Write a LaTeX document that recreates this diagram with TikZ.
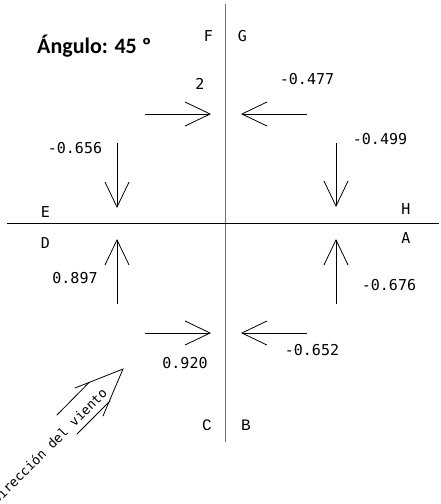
\documentclass[tikz,border=0pt]{standalone}
\usepackage{fontspec}
\setmainfont{DejaVu Sans Mono}
\newfontfamily\titlefont{Carlito}
\newfontfamily\serifmono{Liberation Mono}
\usetikzlibrary{arrows.meta}
\begin{document}
\begin{tikzpicture}[x=1pt,y=-1pt,
  force/.style={line width=0.8pt,-{Straight Barb[length=25pt,width=24pt,line width=0.8pt]}},
  lbl/.style={font=\fontsize{15}{18}\selectfont,inner sep=0pt,anchor=center},
  clbl/.style={font=\serifmono\fontsize{16}{18}\selectfont,inner sep=0pt,anchor=center},
  axisv/.style={line width=1.8pt,draw=black!55},
  axish/.style={line width=1pt,draw=black},
  wind/.style={line width=0.8pt,line cap=round}]
\useasboundingbox (0,0) rectangle (441,504);
% axes
\coordinate (vtop) at (225.5,4);
\coordinate (vbot) at (225.5,442);
\coordinate (hl) at (7,223);
\coordinate (hr) at (439,223);
\draw[axisv] (vtop) -- (vbot);
\draw[axish] (hl) -- (hr);
% force arrows
\coordinate (a1s) at (145,114); \coordinate (a1e) at (211,114);
\coordinate (a2s) at (307,114); \coordinate (a2e) at (241,114);
\coordinate (a3s) at (117,143); \coordinate (a3e) at (117,208);
\coordinate (a4s) at (336,143); \coordinate (a4e) at (336,207);
\coordinate (a5s) at (117,304); \coordinate (a5e) at (117,239);
\coordinate (a6s) at (336,304); \coordinate (a6e) at (336,239);
\coordinate (a7s) at (145,333); \coordinate (a7e) at (211,333);
\coordinate (a8s) at (307,333); \coordinate (a8e) at (241,333);
\draw[force] (a1s) -- (a1e);
\draw[force] (a2s) -- (a2e);
\draw[force] (a3s) -- (a3e);
\draw[force] (a4s) -- (a4e);
\draw[force] (a5s) -- (a5e);
\draw[force] (a6s) -- (a6e);
\draw[force] (a7s) -- (a7e);
\draw[force] (a8s) -- (a8e);
% title
\node[font=\titlefont\bfseries\fontsize{22}{26}\selectfont,inner sep=0pt,anchor=base west] (title) at (37,53) {Ángulo: 45 º};
% labels
\node[lbl] (F) at (208.5,36) {F};
\node[lbl] (G) at (242.5,36) {G};
\node[lbl] (two) at (200,84) {2};
\node[lbl] (v477) at (307,79) {-0.477};
\node[lbl] (v499) at (380,139) {-0.499};
\node[lbl] (v656) at (75,148) {-0.656};
\node[lbl] (E) at (45.5,212.5) {E};
\node[lbl] (H) at (406,209) {H};
\node[lbl] (D) at (45.5,243.5) {D};
\node[lbl] (A) at (406,238) {A};
\node[lbl] (v897) at (75,278) {0.897};
\node[lbl] (v676) at (389,285) {-0.676};
\node[lbl] (v652) at (312,350) {-0.652};
\node[lbl] (v920) at (185,363) {0.920};
\node[clbl] (C) at (207,425) {C};
\node[clbl] (B) at (246,425) {B};
% wind arrow
\coordinate (wt) at (123,369);
\coordinate (wb1) at (75,388);
\coordinate (wb2) at (103,416);
\coordinate (ws1a) at (57,415); \coordinate (ws1b) at (89,382.5);
\coordinate (ws2a) at (77,434); \coordinate (ws2b) at (110,401);
\draw[wind] (wb1) -- (wt) -- (wb2);
\draw[wind] (ws1a) -- (ws1b);
\draw[wind] (ws2a) -- (ws2b);
\node[font=\fontsize{13}{15}\selectfont,inner sep=0pt,rotate=45,anchor=center] (windtext) at (49,446) {Dirección del viento};
\end{tikzpicture}
\end{document}
